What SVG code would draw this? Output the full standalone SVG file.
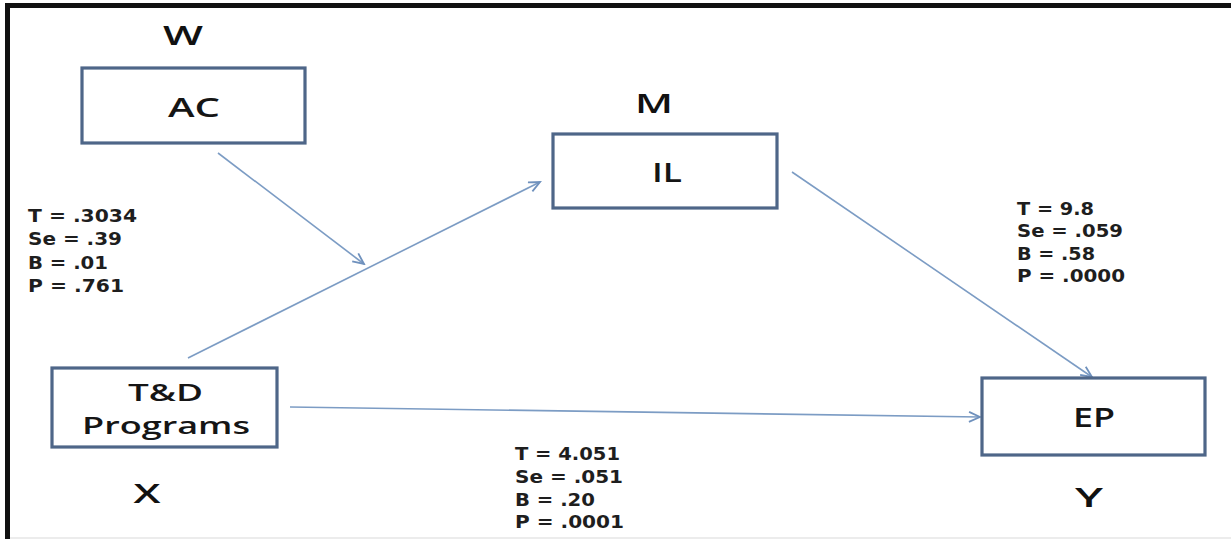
<svg xmlns="http://www.w3.org/2000/svg" width="1231" height="539" viewBox="0 0 1231 539">
<style>
.box{fill:#fff;stroke:#4e6688;stroke-width:3.2}
.lab{font-family:"Open Sans","DejaVu Sans",sans-serif;font-size:27px;font-weight:600;fill:#151515}
.two{font-family:"Open Sans","DejaVu Sans",sans-serif;font-size:24px;font-weight:600;fill:#151515}
.big{font-family:"Open Sans","DejaVu Sans",sans-serif;font-size:27px;font-weight:600;fill:#111}
.st{font-family:"DejaVu Sans",sans-serif;font-size:17.5px;font-weight:bold;fill:#1e1e1e}
.con{stroke:#7c9cc4;stroke-width:1.6;fill:none}
</style>
<defs>
<marker id="ah" markerWidth="14" markerHeight="12" refX="12" refY="6" orient="auto" markerUnits="userSpaceOnUse">
<path d="M1,1 L12,6 L1,11" fill="none" stroke="#6f91bd" stroke-width="1.8"/>
</marker>
</defs>
<rect x="0" y="0" width="1231" height="539" fill="#fff"/>
<line x1="5" y1="5.5" x2="1231" y2="5.5" stroke="#111" stroke-width="5"/>
<line x1="7.5" y1="3" x2="7.5" y2="539" stroke="#111" stroke-width="5"/>
<line x1="10" y1="538" x2="1231" y2="538" stroke="#e6e6e6" stroke-width="1.5"/>

<g id="connectors">
<line class="con" x1="188" y1="358" x2="540" y2="182" marker-end="url(#ah)"/>
<line class="con" x1="218" y1="153" x2="364" y2="264" marker-end="url(#ah)"/>
<line class="con" x1="792" y1="172" x2="1092" y2="377" marker-end="url(#ah)"/>
<line class="con" x1="290" y1="407" x2="980" y2="417" marker-end="url(#ah)"/>
</g>

<g id="node-AC">
<rect class="box" x="82" y="68" width="223" height="75"/>
<text class="big" x="183" y="45" text-anchor="middle" textLength="40" lengthAdjust="spacingAndGlyphs">W</text>
<text class="lab" x="194" y="117" text-anchor="middle" textLength="52" lengthAdjust="spacingAndGlyphs">AC</text>
</g>

<g id="node-IL">
<rect class="box" x="553" y="134" width="224" height="74"/>
<text class="big" x="654" y="113" text-anchor="middle" textLength="38" lengthAdjust="spacingAndGlyphs">M</text>
<text class="lab" x="667" y="182" text-anchor="middle" textLength="30" lengthAdjust="spacingAndGlyphs">IL</text>
</g>

<g id="node-TD">
<rect class="box" x="52" y="368" width="225" height="79"/>
<text class="two" x="165.5" y="401" text-anchor="middle" textLength="75" lengthAdjust="spacingAndGlyphs">T&amp;D</text>
<text class="two" x="166" y="434" text-anchor="middle" textLength="168" lengthAdjust="spacingAndGlyphs">Programs</text>
<text class="big" x="147" y="503" text-anchor="middle" textLength="27" lengthAdjust="spacingAndGlyphs">X</text>
</g>

<g id="node-EP">
<rect class="box" x="982" y="378" width="223" height="77"/>
<text class="lab" x="1094" y="427" text-anchor="middle" textLength="42" lengthAdjust="spacingAndGlyphs">EP</text>
<text class="big" x="1089" y="507" text-anchor="middle" textLength="28" lengthAdjust="spacingAndGlyphs">Y</text>
</g>

<g id="stats-moderation">
<text class="st" x="28" y="222" textLength="109" lengthAdjust="spacingAndGlyphs">T = .3034</text>
<text class="st" x="28" y="245" textLength="94" lengthAdjust="spacingAndGlyphs">Se = .39</text>
<text class="st" x="28" y="269" textLength="80" lengthAdjust="spacingAndGlyphs">B = .01</text>
<text class="st" x="28" y="292" textLength="96" lengthAdjust="spacingAndGlyphs">P = .761</text>
</g>

<g id="stats-IL-EP">
<text class="st" x="1017" y="215" textLength="77" lengthAdjust="spacingAndGlyphs">T = 9.8</text>
<text class="st" x="1017" y="237" textLength="106" lengthAdjust="spacingAndGlyphs">Se = .059</text>
<text class="st" x="1017" y="260" textLength="78" lengthAdjust="spacingAndGlyphs">B = .58</text>
<text class="st" x="1017" y="282" textLength="108" lengthAdjust="spacingAndGlyphs">P = .0000</text>
</g>

<g id="stats-direct">
<text class="st" x="515" y="460" textLength="105" lengthAdjust="spacingAndGlyphs">T = 4.051</text>
<text class="st" x="515" y="483" textLength="108" lengthAdjust="spacingAndGlyphs">Se = .051</text>
<text class="st" x="515" y="506" textLength="80" lengthAdjust="spacingAndGlyphs">B = .20</text>
<text class="st" x="515" y="528" textLength="109" lengthAdjust="spacingAndGlyphs">P = .0001</text>
</g>
</svg>
